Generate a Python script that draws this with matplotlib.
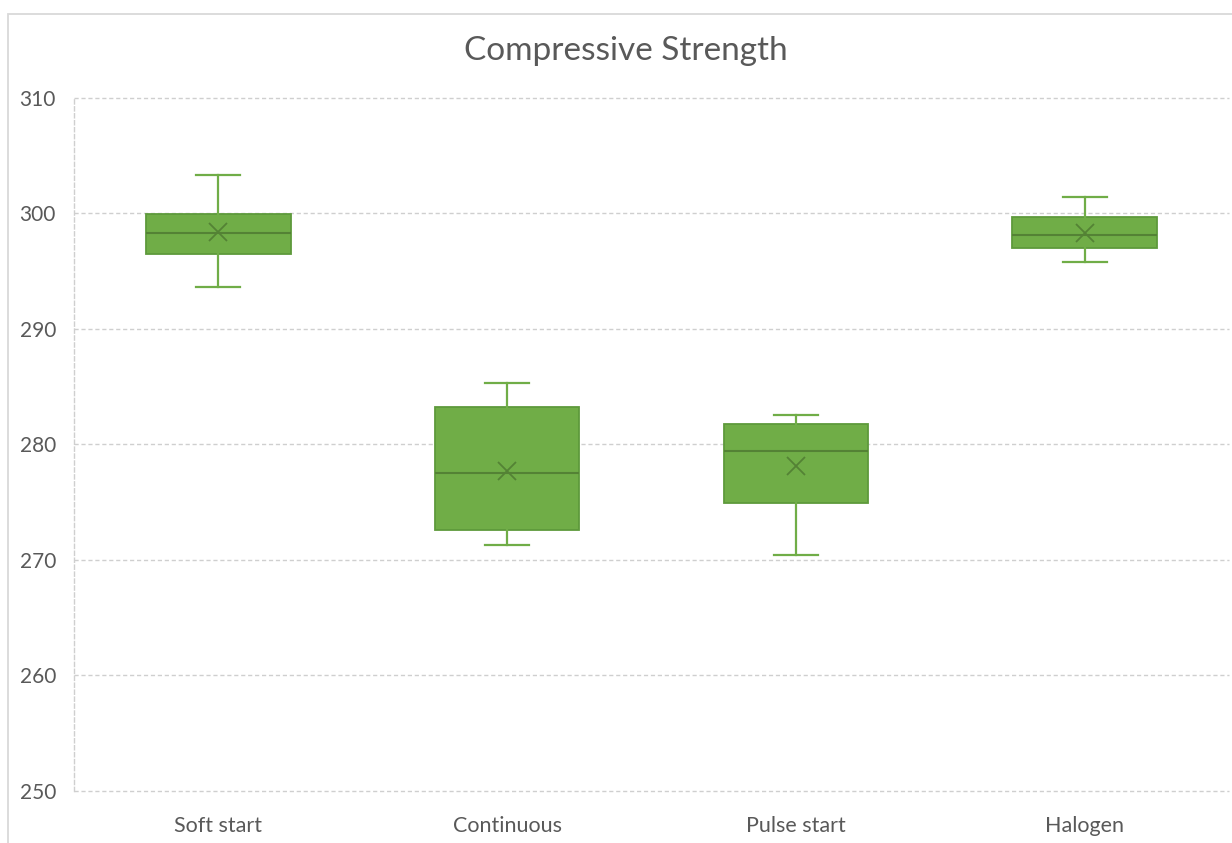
import matplotlib
matplotlib.use("Agg")
import matplotlib.pyplot as plt
from matplotlib.patches import Rectangle

# Summary statistics for each lamp type
categories = ["Soft start", "Continuous", "Pulse start", "Halogen"]
whisker_low = [293.6, 271.3, 270.4, 295.8]
quartile_1 = [296.5, 272.6, 274.9, 297.0]
medians = [298.3, 277.5, 279.4, 298.1]
quartile_3 = [299.9, 283.2, 281.8, 299.7]
whisker_high = [303.3, 285.3, 282.5, 301.4]
means = [298.4, 277.7, 278.1, 298.3]
y_ticks = [250, 260, 270, 280, 290, 300, 310]

FILL = "#70AD47"
EDGE = "#5E9A3B"
DARK = "#548235"
TEXT = "#595959"
GRID = "#CFCFCF"

plt.rcParams["font.family"] = ["Lato", "DejaVu Sans"]

W, H = 1232, 843
fig = plt.figure(figsize=(W / 100, H / 100), dpi=100)
fig.patch.set_facecolor("white")

# chart-area border
fig.patches.append(Rectangle((7.5 / W, -0.1), 1.2, (H - 14) / H + 0.1,
                             transform=fig.transFigure, fill=False,
                             edgecolor="#D9D9D9", linewidth=1.3))

left, right, top, bottom = 74, 1229, 97.7, 791
ax = fig.add_axes([left / W, (H - bottom) / H, (right - left) / W, (bottom - top) / H])

stats = []
for i, name in enumerate(categories):
    stats.append(dict(label=name, whislo=whisker_low[i], q1=quartile_1[i],
                      med=medians[i], q3=quartile_3[i], whishi=whisker_high[i],
                      mean=means[i], fliers=[]))

positions = [i + 0.5 for i in range(len(categories))]
ax.bxp(stats, positions=positions, widths=0.5, patch_artist=True,
       showmeans=True, showfliers=False,
       boxprops=dict(facecolor=FILL, edgecolor=EDGE, linewidth=1.3),
       medianprops=dict(color=DARK, linewidth=1.5),
       whiskerprops=dict(color=FILL, linewidth=1.6),
       capprops=dict(color=FILL, linewidth=1.6),
       capwidths=0.153,
       meanprops=dict(marker="x", markeredgecolor=DARK, markersize=13,
                      markeredgewidth=1.3),
       zorder=3)

ax.set_xlim(0, 4)
ax.set_ylim(250, 310)
ax.set_yticks(y_ticks)
ax.set_xticks(positions)
ax.set_xticklabels(categories)

for s in ["top", "right", "bottom"]:
    ax.spines[s].set_visible(False)
ax.spines["left"].set_color(GRID)
ax.spines["left"].set_linestyle((0, (3, 2)))
ax.spines["left"].set_linewidth(1.0)

ax.grid(axis="y", color=GRID, linestyle=(0, (3, 2)), linewidth=1.0, zorder=0)
for gl in ax.get_ygridlines():
    gl.set_clip_on(False)
ax.set_axisbelow(True)
ax.tick_params(axis="both", length=0, colors=TEXT)
ax.tick_params(axis="y", pad=13, labelsize=15)
ax.tick_params(axis="x", pad=18, labelsize=15.5)

fig.text(626 / W, (H - 51) / H, "Compressive Strength", ha="center", va="center",
         fontsize=24, color=TEXT)

fig.savefig("out.png", dpi=100)
